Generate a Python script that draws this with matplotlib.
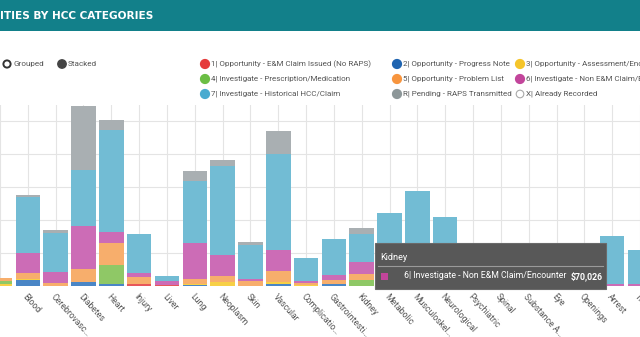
import matplotlib
matplotlib.use("Agg")
import matplotlib.pyplot as plt
from matplotlib.patches import Rectangle, Ellipse
import numpy as np

W, H = 640, 337

# categories (first one is scrolled out of view on the left)
categories = ["", "Blood", "Cerebrovasc…", "Diabetes", "Heart", "Injury", "Liver",
              "Lung", "Neoplasm", "Skin", "Vascular", "Complicatio…", "Gastrointesti…",
              "Kidney", "Metabolic", "Musculoskel…", "Neurological", "Psychiatric",
              "Spinal", "Substance A…", "Eye", "Openings", "Arrest", "Transplant"]

# dollar amounts in $k per status, one list per series
opp_em_claim = [0, 0, 0, 0, 0, 9, 6, 0, 0, 0, 0, 0, 0, 0, 0, 0, 0, 0, 0, 0, 0, 0, 0, 0]
opp_progress = [0, 36, 0, 24, 9, 0, 0, 6, 0, 0, 12, 0, 9, 0, 7, 0, 0, 0, 0, 0, 0, 0, 0, 0]
opp_assessment = [12, 6, 0, 0, 3, 0, 0, 6, 24, 0, 12, 6, 0, 0, 0, 0, 0, 0, 0, 0, 0, 0, 0, 0]
inv_prescription = [18, 0, 0, 0, 115, 0, 0, 0, 0, 0, 0, 0, 0, 36, 0, 0, 0, 0, 0, 0, 0, 0, 0, 0]
opp_problem_list = [18, 33, 18, 73, 133, 42, 0, 30, 36, 30, 61, 12, 24, 36, 15, 12, 8, 0, 0, 0, 0, 0, 0, 0]
inv_non_em = [0, 121, 61, 261, 67, 24, 24, 218, 127, 12, 133, 9, 30, 70.026, 20, 18, 15, 5, 0, 0, 0, 0, 12, 12]
inv_historical = [0, 339, 242, 339, 618, 236, 30, 376, 539, 206, 582, 139, 218, 170, 400, 540, 395, 25, 20, 15, 10, 40, 291, 206]
pending_raps = [0, 12, 18, 388, 61, 0, 0, 55, 36, 18, 139, 0, 0, 36, 0, 0, 0, 0, 0, 0, 0, 0, 0, 0]

series = [opp_em_claim, opp_progress, opp_assessment, inv_prescription,
          opp_problem_list, inv_non_em, inv_historical, pending_raps]
bar_colors = ["#e8575a", "#4a86c6", "#f7d046", "#8fc866", "#f7ae6c",
              "#cc6cb6", "#72bcd4", "#a9afb2"]

legend_labels = [
    ["1| Opportunity - E&M Claim Issued (No RAPS)", "2| Opportunity - Progress Note",
     "3| Opportunity - Assessment/Encounter"],
    ["4| Investigate - Prescription/Medication", "5| Opportunity - Problem List",
     "6| Investigate - Non E&M Claim/Encounter"],
    ["7| Investigate - Historical HCC/Claim", "R| Pending - RAPS Transmitted",
     "X| Already Recorded"],
]
legend_colors = [
    ["#e53b3b", "#1f64b0", "#f5c52a"],
    ["#6bbe45", "#f7953e", "#c2459b"],
    ["#4aabd0", "#8d9799", None],
]

FONT = ["Roboto", "DejaVu Sans"]


def fx(px):
    return px / W


def fy(py):
    return 1 - py / H


def dot(px, py, r, face, edge, lw=1.0):
    fig.patches.append(Ellipse((fx(px), fy(py)), 2 * r / W, 2 * r / H,
                               transform=fig.transFigure, facecolor=face,
                               edgecolor=edge, linewidth=lw))


fig = plt.figure(figsize=(W / 100, H / 100), dpi=100)
fig.patch.set_facecolor("white")

# chart area
base_px, top_px = 285.5, 105
ax = fig.add_axes([0, fy(base_px), 1, (base_px - top_px) / H])
step = 28.3
ax.set_xlim(1 - 24.5 / step, 1 + (W - 24.5) / step)
ax.set_ylim(0, (base_px - top_px) / 33 * 200)

x = np.arange(len(categories))
bottom = np.zeros(len(categories))
for vals, col in zip(series, bar_colors):
    vals = np.array(vals, dtype=float)
    ax.bar(x, vals, bottom=bottom, width=0.88, color=col, zorder=3, linewidth=0)
    bottom += vals

ax.set_xticks(x)
ax.set_xticklabels(categories, rotation=-48, ha="left", va="top",
                   rotation_mode="anchor", fontsize=6.2, color="#555555", family=FONT)
ax.tick_params(axis="x", length=0, pad=5)
for lbl in ax.get_xticklabels():
    lbl.set_x(lbl.get_position()[0])
ax.set_yticks(np.arange(0, 1001, 200))
ax.tick_params(axis="y", length=0, labelleft=False)
ax.grid(True, color="#e4e4e4", linewidth=0.8, zorder=0)
for s in ax.spines.values():
    s.set_visible(False)

# header band
fig.patches.append(Rectangle((0, fy(31)), 1, 31 / H, transform=fig.transFigure,
                             facecolor="#12808a", edgecolor="none", zorder=0))
fig.text(fx(0), fy(16), "ITIES BY HCC CATEGORIES", color="white", fontsize=7.6,
         fontweight="bold", va="center", ha="left", family=["DejaVu Sans"])

# grouped / stacked toggle
dot(7, 64, 3.6, "white", "#333333", 1.4)
fig.text(fx(13.5), fy(64), "Grouped", fontsize=5.9, color="#555555", va="center", family=FONT)
dot(62, 64, 4.2, "#444444", "#444444")
fig.text(fx(67.5), fy(64), "Stacked", fontsize=5.9, color="#555555", va="center", family=FONT)

col_x = [205, 397, 520]
row_y = [64, 79, 94]
for r, (labels, cols) in enumerate(zip(legend_labels, legend_colors)):
    for c, (lab, col) in enumerate(zip(labels, cols)):
        if col is None:
            dot(col_x[c], row_y[r], 3.8, "white", "#aaaaaa", 0.8)
        else:
            dot(col_x[c], row_y[r], 4.4, col, col)
        fig.text(fx(col_x[c] + 6), fy(row_y[r]), lab, fontsize=5.8, color="#555555",
                 va="center", family=FONT)

# hover tooltip for Kidney / Non E&M
tt_left, tt_right, tt_top, tt_bot = 375, 606, 243, 289
fig.patches.append(Rectangle((fx(tt_left), fy(tt_bot)), fx(tt_right - tt_left),
                             (tt_bot - tt_top) / H, transform=fig.transFigure,
                             facecolor="#585858", edgecolor="#6a6a6a",
                             linewidth=0.8, zorder=10))
fig.text(fx(380), fy(257), categories[13], fontsize=6.6, color="white", va="center",
         family=FONT, zorder=11)
fig.lines.append(plt.Line2D([fx(378), fx(603)], [fy(266), fy(266)],
                            transform=fig.transFigure, color="#9a9a9a",
                            linewidth=0.8, zorder=11))
fig.patches.append(Rectangle((fx(381), fy(279.5)), fx(7), 7 / H, transform=fig.transFigure,
                             facecolor="#c2459b", edgecolor="none", zorder=11))
fig.text(fx(404), fy(276), legend_labels[1][2], fontsize=6.3, color="white",
         va="center", family=FONT, zorder=11)
fig.text(fx(603), fy(276), "${:,.0f}".format(inv_non_em[13] * 1000), fontsize=6.3,
         color="white", va="center", ha="right", fontweight="bold", family=FONT, zorder=11)

fig.savefig("out.png", dpi=100)
